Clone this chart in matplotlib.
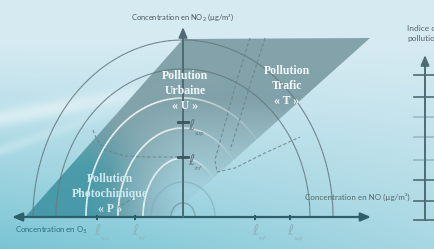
import numpy as np
import matplotlib
matplotlib.use('Agg')
import matplotlib.pyplot as plt
from matplotlib.patches import Polygon
from matplotlib.collections import LineCollection

W, H = 434, 249
OX, OY = 183, 217  # origin of the diagram in pixels

# ---------------- data ----------------
arc_h_radii = [150, 127, 97, 65, 40, 32, 12]
arc_v_radii = [177, 148, 119, 89, 59, 35, 14]
arc_colors = ['#66797e', '#66797e', 'white', 'white', 'white', '#86aeb6', '#6f8f96']
arc_fade = [False, False, True, True, True, False, False]

zone_x = [0, 187, -13, -158]          # parallelogram corners (x)
zone_y = [178, 179, 0, 0]             # parallelogram corners (y)

zone_labels = ['Pollution\nUrbaine\n« U »', 'Pollution\nTrafic\n« T »',
               'Pollution\nPhotochimique\n« P »']
zone_label_x = [2, 104, -73]
zone_label_y = [126, 131, 23]
zone_label_colors = ['#f2f8f9', '#f2f8f9', '#cfe8ee']

v_tick_y = [95, 60]
v_tick_subs = ['sup', 'inf']
h_tick_x = [-86, -48, 72, 107]
h_tick_subs = ['sup', 'inf', 'inf', 'sup']

dash_T1_x = [67, 54, 43, 32, 34, 52, 82, 117]
dash_T1_y = [179, 137, 97, 57, 45, 49, 64, 80]
dash_T2_x = [82, 67, 55, 47]
dash_T2_y = [179, 132, 92, 67]
dash_U_x = [-90, -86, -78, -58, -33, 0]
dash_U_y = [87, 77, 67, 61, 60, 60]
dash_P_x = [-66, -40]
dash_P_y = [9, 25]

side_x = 242
side_tick_y = [142, 120, 100, 80, 57, 37, 16, -3]
side_tick_alpha = [1, 1, 0.35, 0.35, 0.35, 1, 1, 1]

# ---------------- figure ----------------
fig = plt.figure(figsize=(W / 100, H / 100), dpi=100)
ax = fig.add_axes([0, 0, 1, 1])
xmin, xmax, ymin, ymax = -OX, W - OX, -(H - OY), OY
ax.set_xlim(xmin, xmax)
ax.set_ylim(ymin, ymax)
ax.axis('off')

# background gradient
X, Y = np.meshgrid(np.arange(W), np.arange(H))
top = np.array([0.84, 0.92, 0.95])
bot = np.array([0.47, 0.77, 0.83])
t = np.clip((Y - 40) / 209, 0, 1) ** 1.1 * (1 - 0.5 * X / W)
bg = top * (1 - t[..., None]) + bot * t[..., None]
band = np.exp(-((Y - (118 - 0.18 * X)) / 9.0) ** 2) * np.clip((260 - X) / 200, 0, 1)
bg = bg + (1 - bg) * 0.45 * band[..., None]
band2 = np.exp(-((Y - (150 - 0.35 * X)) / 6.0) ** 2) * np.clip((200 - X) / 200, 0, 1)
bg = bg + (1 - bg) * 0.25 * band2[..., None]
ax.imshow(bg, extent=(xmin, xmax, ymin, ymax), origin='upper', aspect='auto', zorder=0)

# zone parallelogram with gradient
gray = np.array([0.45, 0.58, 0.61])
teal = np.array([0.22, 0.56, 0.62])
t_teal = np.clip((Y - 115) / 50, 0, 1) * np.clip((150 - X) / 60, 0, 1)
col = gray * (1 - t_teal[..., None]) + teal * t_teal[..., None]
fade = np.clip((Y - 100) / 90, 0, 1) * np.clip((X - 110) / 70, 0, 1)
alpha = 0.82 * (1 - 0.92 * fade)
rgba = np.dstack([col, alpha])
poly = Polygon(list(zip(zone_x, zone_y)), closed=True, facecolor='none', edgecolor='none')
ax.add_patch(poly)
im = ax.imshow(rgba, extent=(xmin, xmax, ymin, ymax), origin='upper', aspect='auto', zorder=1)
im.set_clip_path(poly)

# arcs
for rh, rv, c, fd in zip(arc_h_radii, arc_v_radii, arc_colors, arc_fade):
    th = np.linspace(0, np.pi, 200)
    xs, ys = rh * np.cos(th), rv * np.sin(th)
    pts = np.array([xs, ys]).T
    segs = np.stack([pts[:-1], pts[1:]], axis=1)
    if fd:
        a = np.clip((th[:-1] - 0.6) / 1.2, 0, 1) * 0.9
        lw = 1.2
    else:
        a = np.full(len(segs), 0.9)
        lw = 0.8
    rgb = matplotlib.colors.to_rgb(c)
    lc = LineCollection(segs, colors=[(*rgb, ai) for ai in a], linewidths=lw, zorder=2)
    ax.add_collection(lc)

# dashed lines
for xs, ys in [(dash_T1_x, dash_T1_y), (dash_T2_x, dash_T2_y), (dash_U_x, dash_U_y), (dash_P_x, dash_P_y)]:
    ax.plot(xs, ys, ls=(0, (3, 2)), color='#6a8489', lw=0.8, alpha=0.85, zorder=3)

# axes arrows
ax.annotate('', xy=(xmin + 12, 0), xytext=(188, 0),
            arrowprops=dict(arrowstyle='<|-|>,head_length=0.6,head_width=0.25', lw=1.6,
                            color='#2d5e6a', shrinkA=0, shrinkB=0), zorder=4)
ax.annotate('', xy=(0, 190), xytext=(0, 0),
            arrowprops=dict(arrowstyle='-|>,head_length=0.6,head_width=0.25', lw=1.4,
                            color='#4e6b73', shrinkA=0, shrinkB=0), zorder=4)


def ell(x, y, sub, color):
    ax.text(x, y, r'$\ell$', fontsize=11, color=color, ha='center', va='center', zorder=5)
    ax.text(x + 3, y - 8, sub, fontsize=3.8, style='italic', color=color,
            ha='left', va='center', zorder=5)


# vertical axis ticks
for yv, sub in zip(v_tick_y, v_tick_subs):
    ax.plot([-5, 5], [yv, yv], color='#3e555b', lw=2, zorder=5)
    ell(9, yv - 3, sub, '#62797e')

# horizontal axis ticks
for xv, sub in zip(h_tick_x, h_tick_subs):
    ax.plot([xv, xv], [-1.5, 1.5], color='#2d5e6a', lw=1.5, zorder=5)
    ell(xv + 1, -13, sub, '#8fb4bc')

# zone labels
for s, x0, y0, c in zip(zone_labels, zone_label_x, zone_label_y, zone_label_colors):
    ax.text(x0, y0, s, fontsize=8.5, fontweight='bold', family='Liberation Serif', color=c,
            ha='center', va='center', linespacing=1.38, zorder=6)

# axis titles
ax.text(0, 200, r'Concentration en NO$_2$ (µg/m³)', fontsize=5.4, family='Lato',
        color='#4f5a5d', ha='center', va='center', zorder=6)
ax.text(227, 20, 'Concentration en NO (µg/m³)', fontsize=5.8, family='Lato',
        color='#56676b', ha='right', va='center', zorder=6)
ax.text(-168, -13, r'Concentration en O$_3$', fontsize=5.6, family='Lato',
        color='#2c6c7c', ha='left', va='center', zorder=6)

# side axis (index of pollution) - cut by the right edge as in the original
ax.annotate('', xy=(side_x, 162), xytext=(side_x, -3),
            arrowprops=dict(arrowstyle='-|>,head_length=0.6,head_width=0.25', lw=1.4,
                            color='#4e6b73', shrinkA=0, shrinkB=0), zorder=4)
for yv, a in zip(side_tick_y, side_tick_alpha):
    ax.plot([side_x - 11, xmax], [yv, yv], color='#4e6b73', lw=1.2, alpha=a, zorder=4)
ax.text(224, 189, 'Indice de', fontsize=6, family='Lato', color='#5a6569',
        ha='left', va='center', zorder=6)
ax.text(224, 179, 'pollution', fontsize=6, family='Lato', color='#5a6569',
        ha='left', va='center', zorder=6)

fig.savefig('out.png', dpi=100)
